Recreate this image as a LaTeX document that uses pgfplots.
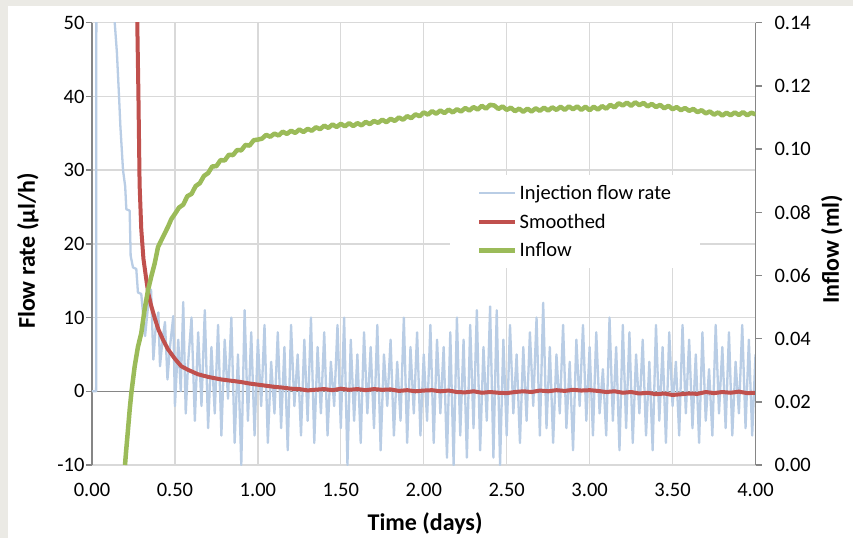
\documentclass[border=0pt]{standalone}
\usepackage{fontspec}
\setmainfont{Carlito}
\usepackage{pgfplots}
\pgfplotsset{compat=1.18}
\definecolor{bgframe}{HTML}{EBEAE5}
\definecolor{gridc}{HTML}{D9D9D9}
\definecolor{axc}{HTML}{868686}
\definecolor{injc}{HTML}{B9CDE5}
\definecolor{smc}{HTML}{C0504D}
\definecolor{infc}{HTML}{9BBB59}
\pgfplotsset{
  common/.style={
    at={(92pt,73pt)}, anchor=south west,
    scale only axis, width=663.5pt, height=442.3pt,
    xmin=0, xmax=4,
    /pgf/number format/assume math mode=true,
    tick label style={font=\fontsize{20.5}{24}\selectfont, text=black},
    label style={font=\bfseries\fontsize{24}{28}\selectfont},
    tick align=outside, major tick length=6pt,
    y axis line style={draw=axc, line width=1.5pt, -},
    ytick style={draw=axc, line width=1.5pt},
    scaled y ticks=false,
  },
  legend image code/.code={\draw[#1] (0pt,0pt) -- (36pt,0pt);},
}
\begin{document}
\begin{tikzpicture}
\fill[bgframe] (0pt,0pt) rectangle (853pt,538pt);
\fill[white] (8pt,0pt) rectangle (853pt,532pt);
\begin{axis}[common,
  ymin=-10, ymax=50,
  axis x line*=bottom, axis y line*=left,
  x axis line style={draw=gridc, line width=1.3pt, -},
  xtick={0,0.5,1,1.5,2,2.5,3,3.5,4},
  ytick={-10,0,10,20,30,40,50},
  xtick style={draw=none},
  grid=major, major grid style={draw=gridc, line width=1.3pt},
  extra y ticks={0}, extra y tick labels={},
  extra y tick style={major grid style={draw=axc, line width=1.5pt}, tick style={draw=axc, line width=1.5pt}},
  xticklabel={\pgfmathprintnumber[fixed,fixed zerofill,precision=2]{\tick}},
  xticklabel style={yshift=-9pt},
  yticklabel style={xshift=2pt},
  xlabel={Time (days)}, ylabel={Flow rate (µl/h)},
  xlabel style={at={(axis description cs:0.502,-0.133)}, anchor=center},
  ylabel style={at={(axis description cs:-0.0965,0.484)}, anchor=center},
]
\addplot[injc, line width=2.3pt, line join=round] coordinates {
(0,0)(0.025,0)(0.027,80)(0.13,55)(0.137,50)(0.15,46)(0.163,40)(0.171,36)(0.187,30)(0.2,27.8)
(0.207,24.7)(0.227,24.5)(0.233,18.4)(0.247,16.8)(0.267,16.6)(0.277,13.4)(0.297,13.2)(0.307,10.7)
(0.32,7.5)(0.34,12)(0.356,13.8)(0.37,4.3)(0.385,9)(0.40,10.7)(0.41,3.4)(0.425,7)(0.44,9.4)(0.455,1.6)
(0.47,6)(0.49,10.2)(0.50,-2)(0.52,7)(0.535,0)(0.55,12.1)(0.565,-3)
(0.58,4)(0.60,10)(0.62,-4)(0.64,8)(0.66,-2)(0.68,11)(0.70,-5)(0.72,6)(0.74,-3)(0.76,9)
(0.78,-6)(0.80,7)(0.82,-1)(0.84,10)(0.86,-7)(0.88,5)(0.90,-10)(0.92,11)(0.94,-4)(0.96,8)
(0.98,-6)(1.00,7)(1.02,-2)(1.04,9)(1.06,-7)(1.08,4)(1.10,-3)(1.12,8)(1.14,-5)(1.16,6)
(1.18,-8)(1.20,9)(1.22,-2)(1.24,5)(1.26,-6)(1.28,7)(1.30,-4)(1.32,10)(1.34,-7)(1.36,6)
(1.38,-3)(1.40,8)(1.42,-6)(1.44,4)(1.46,-2)(1.48,9)(1.50,-5)(1.52,10)(1.54,-10)(1.56,7)
(1.58,-4)(1.60,5)(1.62,-7)(1.64,8)(1.66,-3)(1.68,6)(1.70,-5)(1.72,9)(1.74,-8)(1.76,5)
(1.78,-2)(1.80,7)(1.82,-6)(1.84,4)(1.86,-4)(1.88,10)(1.90,-7)(1.92,6)(1.94,-3)(1.96,8)
(1.98,-6)(2.00,5)(2.02,-4)(2.04,9)(2.06,-7)(2.08,7)(2.10,-3)(2.12,6)(2.14,-9)(2.16,8)
(2.18,-10)(2.20,10)(2.22,-6)(2.24,7)(2.26,-9)(2.28,9)(2.30,-5)(2.32,11)(2.34,-8)(2.36,6)
(2.38,-4)(2.40,11.5)(2.42,-9)(2.44,11)(2.46,-10)(2.48,7)(2.50,-6)(2.52,9)(2.54,-3)(2.56,5)
(2.58,-7)(2.60,6)(2.62,-4)(2.64,8)(2.66,-2)(2.68,10)(2.70,-6)(2.72,12)(2.74,-5)(2.76,6)
(2.78,-7)(2.80,5)(2.82,-3)(2.84,9)(2.86,-5)(2.88,4)(2.90,-8)(2.92,7)(2.94,-2)(2.96,9)
(2.98,-4)(3.00,6)(3.02,-6)(3.04,8)(3.06,-3)(3.08,3)(3.10,-6)(3.12,10)(3.14,-4)(3.16,6)
(3.18,-8)(3.20,9)(3.22,-5)(3.24,8)(3.26,-7)(3.28,5)(3.30,-3)(3.32,7)(3.34,-6)(3.36,4)
(3.38,-8)(3.40,9)(3.42,-4)(3.44,6)(3.46,-7)(3.48,8)(3.50,-2)(3.52,4)(3.54,-6)(3.56,9)
(3.58,-3)(3.60,7)(3.62,-5)(3.64,5)(3.66,-7)(3.68,8)(3.70,-4)(3.72,3)(3.74,-6)(3.76,9)
(3.78,-3)(3.80,6)(3.82,-5)(3.84,8)(3.86,-6)(3.88,4)(3.90,-3)(3.92,9)(3.94,-5)(3.96,7)
(3.98,-6)(4.00,5)
};
\addplot[smc, line width=4pt, line join=round] coordinates {
(0.270,70)(0.273,50)(0.28,40)(0.287,28)(0.297,22)(0.31,18)(0.327,15.2)(0.34,13.2)(0.357,11.6)
(0.38,9.8)(0.40,8.4)(0.43,6.9)(0.458,5.7)(0.50,4.4)(0.538,3.4)(0.58,2.9)(0.64,2.3)(0.70,1.95)
(0.78,1.6)(0.85,1.4)(0.90,1.25)(0.95,1.05)(1.00,0.9)
(1.05,0.75)(1.10,0.6)(1.15,0.5)(1.20,0.35)(1.25,0.3)(1.30,0.12)(1.35,0.22)(1.40,0.3)(1.45,0.15)
(1.50,0.35)(1.55,0.2)(1.60,0.3)(1.65,0.15)(1.70,0.3)(1.75,0.2)(1.80,0.25)(1.85,0.05)(1.90,0.15)
(1.95,0.0)(2.00,0.1)(2.05,0.15)(2.10,0.0)(2.15,0.1)(2.20,-0.1)(2.25,-0.15)(2.30,0.0)(2.35,-0.2)
(2.40,-0.1)(2.45,-0.2)(2.50,-0.25)(2.55,-0.1)(2.60,0.0)(2.65,-0.1)(2.70,0.1)(2.75,0.0)(2.80,0.15)
(2.85,0.05)(2.90,0.2)(2.95,0.1)(3.00,0.15)(3.05,0.05)(3.10,-0.1)(3.15,0.0)(3.20,-0.2)(3.25,-0.1)
(3.30,-0.3)(3.35,-0.2)(3.40,-0.4)(3.45,-0.3)(3.50,-0.5)(3.55,-0.4)(3.60,-0.3)(3.65,-0.35)
(3.70,-0.1)(3.75,-0.25)(3.80,-0.1)(3.85,-0.2)(3.90,-0.05)(3.95,-0.25)(4.00,-0.2)
};
\end{axis}
\begin{axis}[common,
  ymin=0, ymax=0.14,
  axis x line=none, axis y line*=right,
  ytick={0,0.02,0.04,0.06,0.08,0.10,0.12,0.14},
  yticklabel={\pgfmathprintnumber[fixed,fixed zerofill,precision=2]{\tick}},
  yticklabel style={xshift=9.5pt},
  ylabel={Inflow (ml)},
  ylabel style={at={(axis description cs:1.115,0.488)}, anchor=center},
  legend style={at={(axis description cs:0.5396,0.6557)}, anchor=north west,
    draw=none, fill=white, font=\fontsize{20.5}{24}\selectfont,
    inner xsep=27pt, inner ysep=8pt, row sep=9pt, legend cell align=left},
]
\addlegendimage{injc, line width=2.3pt}
\addlegendimage{smc, line width=4pt}
\addplot[infc, line width=4.5pt, line join=round] coordinates {
(0.199,0)(0.205,0.004)(0.215,0.010)(0.227,0.0174)(0.237,0.0227)(0.257,0.0311)(0.277,0.0374)
(0.297,0.0417)(0.318,0.0495)(0.338,0.0554)(0.358,0.0598)(0.378,0.0638)(0.398,0.069)(0.428,0.0722)
(0.458,0.0754)(0.478,0.0778)(0.500,0.0795)
(0.525,0.0815)(0.550,0.0824)(0.575,0.0851)(0.600,0.0858)(0.625,0.0883)(0.650,0.0892)(0.675,0.0915)
(0.700,0.0924)(0.725,0.0945)(0.750,0.0946)(0.775,0.0965)(0.800,0.0964)(0.825,0.0982)(0.850,0.0981)
(0.875,0.0997)(0.900,0.0996)(0.925,0.1013)(0.950,0.1011)(0.975,0.1028)(1.000,0.1030)
(1.025,0.1033)(1.050,0.1045)(1.075,0.1039)(1.100,0.1049)(1.125,0.1043)(1.150,0.1055)(1.175,0.1048)(1.200,0.1058)
(1.225,0.1051)(1.250,0.1062)(1.275,0.1054)(1.300,0.1064)(1.325,0.1058)(1.350,0.1069)(1.375,0.1063)(1.400,0.1074)
(1.425,0.1067)(1.450,0.1078)(1.475,0.1070)(1.500,0.1080)(1.525,0.1072)(1.550,0.1082)(1.575,0.1073)(1.600,0.1082)
(1.625,0.1075)(1.650,0.1086)(1.675,0.1079)(1.700,0.1089)(1.725,0.1083)(1.750,0.1093)(1.775,0.1085)(1.800,0.1096)
(1.825,0.1089)(1.850,0.1100)(1.875,0.1093)(1.900,0.1104)(1.925,0.1098)(1.950,0.1110)(1.975,0.1104)(2.000,0.1116)
(2.025,0.1109)(2.050,0.1120)(2.075,0.1112)(2.100,0.1122)(2.125,0.1114)(2.150,0.1125)(2.175,0.1116)(2.200,0.1126)
(2.225,0.1119)(2.250,0.1130)(2.275,0.1122)(2.300,0.1133)(2.325,0.1125)(2.350,0.1137)(2.375,0.1128)(2.400,0.1140)
(2.425,0.1138)(2.450,0.1127)(2.475,0.1135)(2.500,0.1124)(2.525,0.1131)(2.550,0.1120)(2.575,0.1128)(2.600,0.1118)
(2.625,0.1128)(2.650,0.1119)(2.675,0.1129)(2.700,0.1121)(2.725,0.1131)(2.750,0.1122)(2.775,0.1132)(2.800,0.1124)
(2.825,0.1134)(2.850,0.1124)(2.875,0.1135)(2.900,0.1126)(2.925,0.1135)(2.950,0.1124)(2.975,0.1134)(3.000,0.1123)
(3.025,0.1134)(3.050,0.1125)(3.075,0.1136)(3.100,0.1128)(3.125,0.1140)(3.150,0.1132)(3.175,0.1145)(3.200,0.1138)
(3.225,0.1147)(3.250,0.1137)(3.275,0.1148)(3.300,0.1139)(3.325,0.1146)(3.350,0.1135)(3.375,0.1143)(3.400,0.1133)
(3.425,0.1140)(3.450,0.1129)(3.475,0.1137)(3.500,0.1126)(3.525,0.1133)(3.550,0.1123)(3.575,0.1130)(3.600,0.1121)
(3.625,0.1127)(3.650,0.1117)(3.675,0.1123)(3.700,0.1113)(3.725,0.1119)(3.750,0.1109)(3.775,0.1116)(3.800,0.1106)
(3.825,0.1115)(3.850,0.1107)(3.875,0.1116)(3.900,0.1108)(3.925,0.1117)(3.950,0.1107)(3.975,0.1115)(4.000,0.1110)
};
\legend{Injection flow rate, Smoothed, Inflow}
\end{axis}
\pgfresetboundingbox
\path (0pt,0pt) rectangle (853pt,538pt);
\end{tikzpicture}
\end{document}
